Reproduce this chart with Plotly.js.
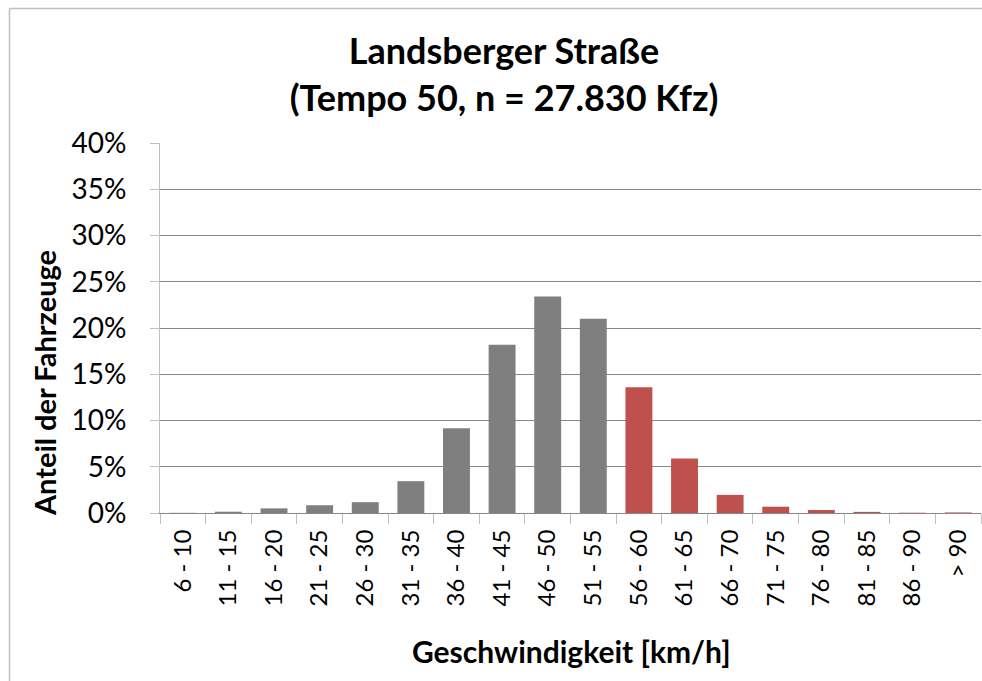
<!DOCTYPE html>
<html>
<head>
<meta charset="utf-8">
<script src="https://cdn.plot.ly/plotly-3.0.1.min.js"></script>
<style>
  html, body { margin: 0; padding: 0; background: #ffffff; }
  #chart { width: 982px; height: 681px; }
</style>
</head>
<body>
<div id="chart"></div>
<script>
// Data
const categories = ["6 - 10", "11 - 15", "16 - 20", "21 - 25", "26 - 30", "31 - 35", "36 - 40",
  "41 - 45", "46 - 50", "51 - 55", "56 - 60", "61 - 65", "66 - 70", "71 - 75", "76 - 80",
  "81 - 85", "86 - 90", "> 90"];
const shares = [0.0002, 0.0014, 0.0050, 0.0084, 0.0117, 0.0344, 0.0917,
  0.1820, 0.2340, 0.2100, 0.1360, 0.0590, 0.0196, 0.0068, 0.0032,
  0.0012, 0.0003, 0.0006];
const redFromLowerBound = 56;   // classes starting at 56 km/h and above are highlighted
const yTickValues = [0, 0.05, 0.10, 0.15, 0.20, 0.25, 0.30, 0.35, 0.40];
const titleText = "Landsberger Straße<br>(Tempo 50, n = 27.830 Kfz)";
const xTitle = "Geschwindigkeit [km/h]";
const yTitle = "Anteil der Fahrzeuge";

const GREY = "#7f7f7f";
const RED = "#c0504d";

const barColors = categories.map(c => {
  if (c.trim().startsWith(">")) return RED;
  const lo = parseInt(c, 10);
  return lo >= redFromLowerBound ? RED : GREY;
});

const FONT = "Lato, 'Open Sans', 'DejaVu Sans', sans-serif";

const trace = {
  type: "bar",
  x: categories,
  y: shares,
  marker: { color: barColors, line: { width: 0 } },
  hoverinfo: "x+y"
};

const plotL = 160, plotR = 981, plotT = 143, plotB = 513;
const pw = plotR - plotL, ph = plotB - plotT;
const px = v => (v - plotL) / pw;
const py = v => (plotB - v) / ph;

const layout = {
  width: 982,
  height: 681,
  margin: { l: plotL, r: 982 - plotR, t: plotT, b: 681 - plotB, pad: 0 },
  paper_bgcolor: "#ffffff",
  plot_bgcolor: "#ffffff",
  font: { family: FONT, color: "#000000" },
  showlegend: false,
  bargap: 0.41,
  title: {
    text: titleText,
    font: { family: FONT, size: 36, color: "#000000", weight: "bold" },
    xref: "container", yref: "container",
    x: 504 / 982, xanchor: "center",
    y: 1 - 64 / 681, yanchor: "middle"
  },
  xaxis: {
    type: "category",
    tickangle: -90,
    tickfont: { family: FONT, size: 24, color: "#000000" },
    ticks: "outside",
    tickson: "boundaries",
    ticklen: 10,
    tickcolor: "#bfbfbf",
    tickwidth: 1,
    ticklabelstandoff: 6,
    showline: true,
    linecolor: "#868686",
    linewidth: 1,
    showgrid: false,
    zeroline: false,
    fixedrange: true
  },
  yaxis: {
    range: [0, 0.4],
    tickmode: "array",
    tickvals: yTickValues,
    tickformat: ".0%",
    tickfont: { family: FONT, size: 28, color: "#000000" },
    ticks: "outside",
    ticklen: 9,
    tickcolor: "#bfbfbf",
    tickwidth: 1,
    ticklabelstandoff: 18,
    showline: true,
    linecolor: "#bfbfbf",
    linewidth: 1,
    showgrid: true,
    gridcolor: "#868686",
    gridwidth: 1,
    zeroline: false,
    fixedrange: true
  },
  annotations: [
    {
      text: yTitle, textangle: -90,
      xref: "paper", yref: "paper",
      x: px(44), y: py(383), xanchor: "center", yanchor: "middle",
      showarrow: false,
      font: { family: FONT, size: 29, color: "#000000", weight: "bold" }
    },
    {
      text: xTitle,
      xref: "paper", yref: "paper",
      x: px(571), y: py(651), xanchor: "center", yanchor: "middle",
      showarrow: false,
      font: { family: FONT, size: 30, color: "#000000", weight: "bold" }
    }
  ],
  shapes: [
    { type: "line", xref: "paper", yref: "paper",
      x0: px(9.5), x1: px(9.5), y0: py(8.5), y1: py(700),
      line: { color: "#bfbfbf", width: 1.5 } },
    { type: "line", xref: "paper", yref: "paper",
      x0: px(9.5), x1: px(1000), y0: py(8.5), y1: py(8.5),
      line: { color: "#bfbfbf", width: 1.5 } }
  ]
};

Plotly.newPlot("chart", [trace], layout, { displayModeBar: false, staticPlot: true });
</script>
</body>
</html>
